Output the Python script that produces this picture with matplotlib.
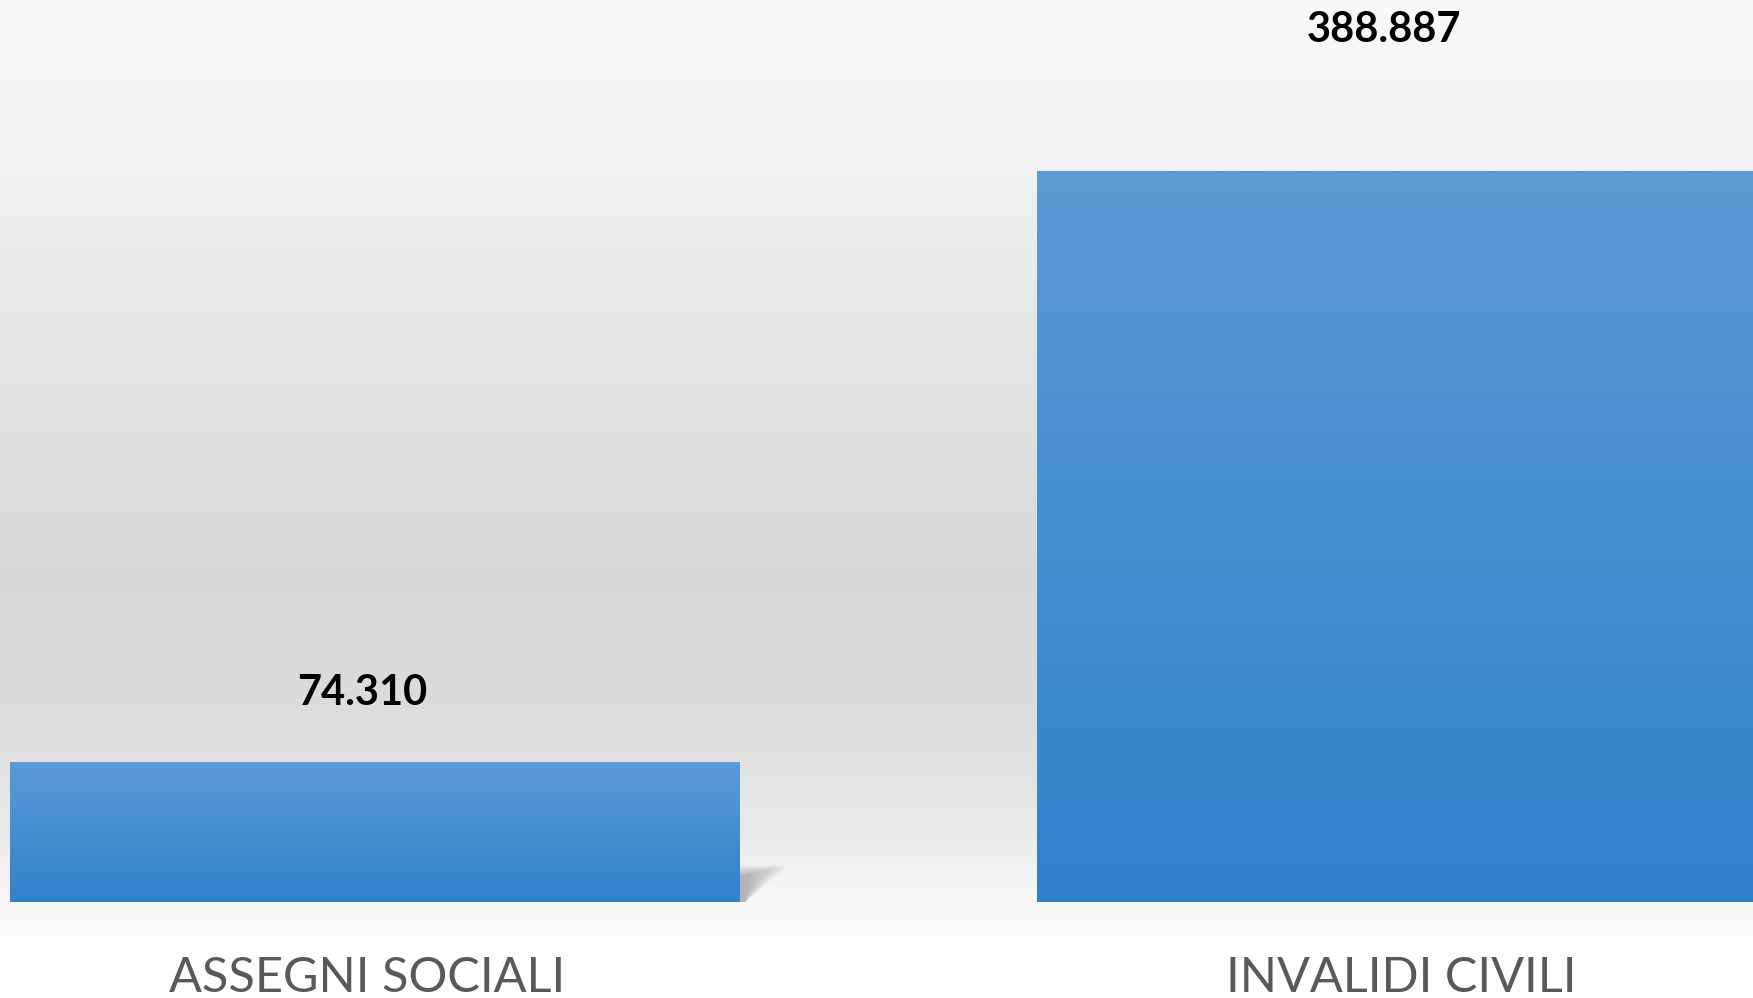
import numpy as np
import matplotlib
matplotlib.use("Agg")
import matplotlib.pyplot as plt
from matplotlib.colors import LinearSegmentedColormap

# ---- data ----
categories = ["ASSEGNI SOCIALI", "INVALIDI CIVILI"]
values = [74310, 388887]
value_labels = ["74.310", "388.887"]

plt.rcParams['font.family'] = ['Lato', 'DejaVu Sans']

W, H, DPI = 1753, 998, 100
fig = plt.figure(figsize=(W / DPI, H / DPI), dpi=DPI)

# background gradient (vertical)
bg = fig.add_axes([0, 0, 1, 1])
bg.set_axis_off()
stops_pos = [0.0, 0.20, 0.40, 0.58, 0.70, 0.77, 0.84, 0.90, 0.94, 1.0]
stops_val = [0.980, 0.940, 0.885, 0.850, 0.860, 0.885, 0.925, 0.970, 0.995, 1.0]
yy = np.linspace(0, 1, 600)
g = np.interp(yy, stops_pos, stops_val)
img = np.repeat(g[:, None], 4, axis=1)
bg.imshow(np.dstack([img, img, img]), aspect='auto', extent=[0, 1, 1, 0],
          interpolation='bilinear')
bg.set_xlim(0, 1)
bg.set_ylim(1, 0)

# main axes
ax = fig.add_axes([0, 0, 1, 1])
ax.patch.set_alpha(0)
ax.set_axis_off()
x = np.arange(len(categories))
width = 0.71
ax.set_xlim(-0.3647, 1.3423)
ax.set_ylim(-51072, 479864)

bars = ax.bar(x, values, width=width, color='#4a8fd2', edgecolor='none', zorder=3)

bar_cmap = LinearSegmentedColormap.from_list('barg', ['#5b9bd6', '#3181ca'])
grad = np.linspace(0, 1, 256)[:, None]
for b in bars:
    bx, by = b.get_x(), b.get_y()
    bw, bh = b.get_width(), b.get_height()
    im = ax.imshow(grad, cmap=bar_cmap, aspect='auto',
                   extent=[bx, bx + bw, by, by + bh], origin='upper', zorder=4,
                   interpolation='bilinear')
    im.set_clip_path(b)
    # soft, blurred shadow cast to the upper right of the bar foot
    xr = bx + bw
    sh = 0.26 * bh
    n = 10
    for i in range(n):
        k = 1.0 - i / n * 0.85
        poly = plt.Polygon([(xr, 0), (xr, sh * (0.6 + 0.4 * k)),
                            (xr + 0.047 * k, sh * (0.7 + 0.3 * k)),
                            (xr + 0.006, 0)],
                           closed=True, facecolor='#4a4a4a', alpha=0.045,
                           edgecolor='none', zorder=2)
        ax.add_patch(poly)

# value labels (offsets in points)
val_offsets = [(-9, 50), (-13, 101.5)]
for xi, v, lab, off in zip(x, values, value_labels, val_offsets):
    ax.annotate(lab, (xi, v), xytext=off, textcoords='offset points',
                ha='center', va='center', fontsize=30, fontweight='bold',
                color='black', zorder=5)

# category labels
cat_offsets = [(-5, -64.8), (0, -64.8)]
for xi, lab, off in zip(x, categories, cat_offsets):
    ax.annotate(lab, (xi, 0), xytext=off, textcoords='offset points',
                ha='center', va='baseline', fontsize=35, color='#595959',
                zorder=5, annotation_clip=False)

fig.savefig('out.png', dpi=DPI)
